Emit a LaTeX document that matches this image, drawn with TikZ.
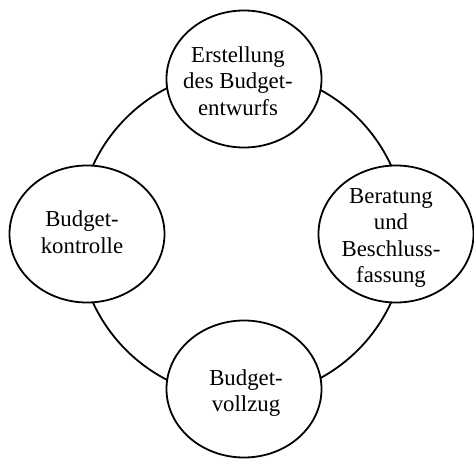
\documentclass[tikz,border=0pt]{standalone}
\usepackage{fontspec}
\setmainfont{Liberation Serif}
\usetikzlibrary{shapes.geometric}
\begin{document}
\begin{tikzpicture}[x=1pt,y=-1pt,
  phase/.style={draw=black, line width=1.8pt, fill=white, ellipse, inner sep=0pt,
    minimum width=155pt, minimum height=137pt},
  label/.style={align=center, inner sep=0pt, font=\fontsize{22.8}{26.5}\selectfont}]
\useasboundingbox (0,0) rectangle (474,458);
\coordinate (c) at (242,234);
\draw[line width=1.8pt] (c) circle[radius=164pt];
\node[phase] (top) at (244,79) {};
\node[phase] (left) at (87,234) {};
\node[phase] (right) at (396,234) {};
\node[phase] (bottom) at (244,389) {};
\node[label] (ttop) at (238,81) {Erstellung\\des Budget-\\entwurfs};
\node[label] (tleft) at (82,232) {Budget-\\kontrolle};
\node[label] (tright) at (391,238) {Beratung\\und\\Beschluss-\\fassung};
\node[label] (tbottom) at (246,393) {Budget-\\vollzug};
\end{tikzpicture}
\end{document}
